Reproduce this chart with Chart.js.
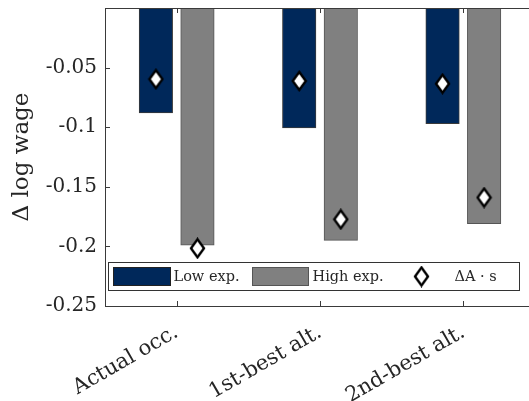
<!DOCTYPE html>
<html>
<head>
<meta charset="utf-8">
<script src="https://cdn.jsdelivr.net/npm/chart.js@4.4.0/dist/chart.umd.min.js"></script>
<style>
html, body { margin: 0; padding: 0; background: #fff; overflow: hidden; }
#wrap { width: 540px; height: 401px; }
</style>
</head>
<body>
<div id="wrap"><canvas id="chart1"></canvas></div>
<script>
// Data
var categories = ['Actual occ.', '1st-best alt.', '2nd-best alt.'];
var lowExp = [-0.088, -0.1005, -0.097];
var highExp = [-0.199, -0.195, -0.181];
var deltaLow = [-0.0597, -0.0612, -0.0635];
var deltaHigh = [-0.2016, -0.1773, -0.159];
var yTicks = [-0.25, -0.2, -0.15, -0.1, -0.05, 0];

var navy = '#00285a';
var gray = '#808080';
var axisColor = '#3a3a3a';
var txtColor = '#262626';
var fontFam = "'DejaVu Serif', serif";
var off = 0.145;   // half distance between the two bars of a group (in categories)
var barW = 33.5;

// diamond marker (taller than wide, like matlab)
function makeDiamond(w, h) {
    var c = document.createElement('canvas');
    c.width = w + 4; c.height = h + 4;
    var g = c.getContext('2d');
    var cx = c.width / 2, cy = c.height / 2;
    g.beginPath();
    g.moveTo(cx, cy - h / 2);
    g.lineTo(cx + w / 2, cy);
    g.lineTo(cx, cy + h / 2);
    g.lineTo(cx - w / 2, cy);
    g.closePath();
    g.fillStyle = '#fff';
    g.fill();
    g.lineWidth = 2.4;
    g.strokeStyle = '#000';
    g.stroke();
    return c;
}
var diamond = makeDiamond(13, 18);

// put each value at its category index, shifted left or right inside the group
function pts(arr, shift) {
    return arr.map(function (v, i) { return { x: i + shift, y: v }; });
}

// ticks inside, box round the axes, legend in the lower part of the axes
var boxPlugin = {
    id: 'box',
    afterDatasetsDraw: function (chart) {
        var ctx = chart.ctx, a = chart.chartArea;
        var xs = chart.scales.x, ys = chart.scales.y;
        ctx.save();
        ctx.strokeStyle = axisColor;
        ctx.lineWidth = 1;
        ctx.beginPath();
        yTicks.forEach(function (t) {
            var y = Math.round(ys.getPixelForValue(t)) + 0.5;
            ctx.moveTo(a.left, y); ctx.lineTo(a.left + 5, y);
            ctx.moveTo(a.right, y); ctx.lineTo(a.right - 5, y);
        });
        categories.forEach(function (c, i) {
            var x = Math.round(xs.getPixelForValue(i)) + 0.5;
            ctx.moveTo(x, a.bottom); ctx.lineTo(x, a.bottom - 5);
            ctx.moveTo(x, a.top); ctx.lineTo(x, a.top + 5);
        });
        ctx.stroke();
        ctx.strokeRect(Math.round(a.left) + 0.5, Math.round(a.top) + 0.5,
            Math.round(a.right - a.left), Math.round(a.bottom - a.top));

        // legend
        var lx = a.left + 3.5, ly = a.bottom - 43.5, lw = 411, lh = 28;
        ctx.fillStyle = '#fff';
        ctx.fillRect(lx, ly, lw, lh);
        ctx.strokeStyle = '#333';
        ctx.strokeRect(lx, ly, lw, lh);
        ctx.fillStyle = navy;
        ctx.fillRect(lx + 5, ly + 5, 57, 18);
        ctx.strokeStyle = '#222';
        ctx.strokeRect(lx + 5, ly + 5, 57, 18);
        ctx.fillStyle = gray;
        ctx.fillRect(lx + 144, ly + 5, 56, 18);
        ctx.strokeStyle = '#555';
        ctx.strokeRect(lx + 144, ly + 5, 56, 18);
        ctx.drawImage(diamond, lx + 313 - diamond.width / 2, ly + lh / 2 - diamond.height / 2);
        ctx.fillStyle = txtColor;
        ctx.font = '14.5px ' + fontFam;
        ctx.textBaseline = 'middle';
        ctx.textAlign = 'left';
        ctx.fillText('Low exp.', lx + 65, ly + lh / 2 + 1);
        ctx.fillText('High exp.', lx + 204, ly + lh / 2 + 1);
        ctx.fillText('\u0394A \u00b7 s', lx + 346, ly + lh / 2 + 1);
        ctx.restore();
    }
};

var ctx1 = document.getElementById('chart1').getContext('2d');
var chart1 = new Chart(ctx1, {
    type: 'bar',
    data: {
        labels: categories,
        datasets: [{
            label: 'Low exp.',
            data: pts(lowExp, -off),
            xAxisID: 'xs',
            grouped: false,
            barThickness: barW,
            backgroundColor: navy,
            borderColor: '#3a3a3a',
            borderWidth: 1,
            order: 2
        }, {
            label: 'High exp.',
            data: pts(highExp, off),
            xAxisID: 'xs',
            grouped: false,
            barThickness: barW,
            backgroundColor: gray,
            borderColor: '#555',
            borderWidth: 1,
            order: 2
        }, {
            type: 'line',
            label: '\u0394A \u00b7 s',
            data: pts(deltaLow, -off),
            xAxisID: 'xs',
            grouped: false,
            showLine: false,
            pointStyle: diamond,
            order: 1
        }, {
            type: 'line',
            label: '\u0394A \u00b7 s high',
            data: pts(deltaHigh, off),
            xAxisID: 'xs',
            grouped: false,
            showLine: false,
            pointStyle: diamond,
            order: 1
        }]
    },
    options: {
        responsive: true,
        maintainAspectRatio: false,
        animation: false,
        layout: { padding: { top: 8, right: 5, left: 0, bottom: 0 } },
        plugins: {
            legend: { display: false },
            tooltip: { enabled: false }
        },
        scales: {
            x: {
                type: 'category',
                offset: true,
                grid: { display: false, drawTicks: false },
                border: { display: false },
                ticks: {
                    color: txtColor,
                    font: { family: fontFam, size: 21 },
                    minRotation: 30,
                    maxRotation: 30,
                    padding: 14
                },
                afterFit: function (s) { s.height = 95; }
            },
            xs: {
                type: 'linear',
                display: false,
                offset: false,
                min: -0.5,
                max: 2.5,
                ticks: { stepSize: 1 }
            },
            y: {
                min: -0.25,
                max: 0,
                grid: { display: false, drawTicks: false },
                border: { display: false },
                ticks: {
                    stepSize: 0.05,
                    color: txtColor,
                    padding: 8,
                    font: { family: fontFam, size: 20 },
                    callback: function (v) { return v === 0 ? '' : Number(v.toFixed(2)).toString(); }
                },
                title: {
                    display: true,
                    text: '\u0394 log wage',
                    color: txtColor,
                    font: { family: fontFam, size: 23 },
                    padding: { top: 8, bottom: 0 }
                },
                afterFit: function (s) { s.width = 105; s.paddingTop = 0; s.paddingBottom = 0; }
            }
        }
    },
    plugins: [boxPlugin]
});
</script>
</body>
</html>
